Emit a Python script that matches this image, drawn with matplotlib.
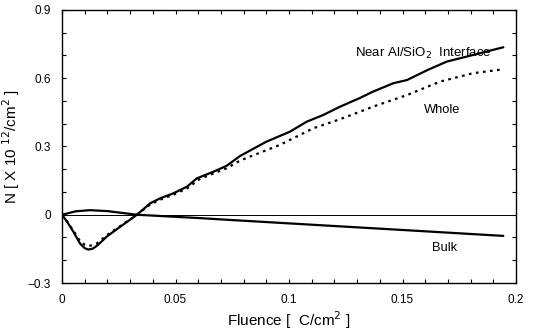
import matplotlib
matplotlib.use("Agg")
import matplotlib.pyplot as plt
from matplotlib.ticker import MultipleLocator, FixedLocator

plt.rcParams['font.family'] = ['Liberation Sans', 'DejaVu Sans']

# Near Al/SiO2 interface (solid)
near_x = [0, 0.0025, 0.005, 0.0079, 0.0100, 0.0116, 0.0135, 0.0153, 0.0175, 0.0197, 0.0256, 0.033,
          0.0388, 0.0432, 0.049, 0.055, 0.0594, 0.0667, 0.0725, 0.0784, 0.090, 0.1004, 0.1078,
          0.115, 0.1225, 0.131, 0.137, 0.146, 0.152, 0.161, 0.1695, 0.181, 0.1944]
near_y = [0, -0.035, -0.075, -0.126, -0.147, -0.153, -0.149, -0.137, -0.117, -0.096, -0.053, 0.0,
          0.050, 0.072, 0.094, 0.123, 0.160, 0.189, 0.215, 0.258, 0.321, 0.365, 0.409,
          0.438, 0.475, 0.512, 0.541, 0.578, 0.592, 0.636, 0.673, 0.702, 0.736]

# Whole (dotted)
whole_x = [0, 0.0025, 0.005, 0.0079, 0.0100, 0.0116, 0.0135, 0.0153, 0.0197, 0.0256, 0.033, 0.0388,
           0.0432, 0.049, 0.055, 0.0608, 0.0725, 0.0784, 0.096, 0.1107, 0.1225, 0.1313, 0.137,
           0.152, 0.1665, 0.181, 0.1944]
whole_y = [0, -0.033, -0.070, -0.115, -0.132, -0.137, -0.134, -0.126, -0.090, -0.050, 0.0, 0.045,
           0.066, 0.088, 0.115, 0.158, 0.204, 0.238, 0.307, 0.380, 0.420, 0.453, 0.475,
           0.526, 0.585, 0.622, 0.639]

# Bulk (solid)
bulk_x = [0, 0.006, 0.0123, 0.02, 0.033, 0.061, 0.0725, 0.1, 0.15, 0.1944]
bulk_y = [0, 0.015, 0.020, 0.016, 0.0, -0.015, -0.022, -0.038, -0.067, -0.093]

fig = plt.figure(figsize=(5.37, 3.31), dpi=100)
ax = fig.add_axes([0.1155, 0.145, 0.8455, 0.825])

ax.axhline(0, color='black', lw=0.7)
kw = dict(color='black', lw=1.6, solid_joinstyle='round', solid_capstyle='round')
ax.plot(near_x, near_y, **kw)
ax.plot(whole_x, whole_y, color='black', lw=1.6, ls=(0, (1.2, 2.0)))
ax.plot(bulk_x, bulk_y, **kw)

ax.set_xlim(0, 0.2)
ax.set_ylim(-0.3, 0.9)
ax.xaxis.set_major_locator(FixedLocator([0, 0.05, 0.1, 0.15, 0.2]))
ax.set_xticklabels(['0', '0.05', '0.1', '0.15', '0.2'])
ax.yaxis.set_major_locator(FixedLocator([-0.3, 0, 0.3, 0.6, 0.9]))
ax.set_yticklabels(['\u22120.3', '0', '0.3', '0.6', '0.9'])
ax.xaxis.set_minor_locator(MultipleLocator(0.01))
ax.yaxis.set_minor_locator(MultipleLocator(0.1))
ax.tick_params(which='both', direction='in', top=True, right=True, labelsize=8.5)
ax.tick_params(which='major', length=3, width=0.8, pad=8)
ax.tick_params(which='minor', length=3, width=0.8)
for s in ax.spines.values():
    s.set_linewidth(1.0)

ax.set_xlabel('Fluence [  C/cm$^2$ ]', fontsize=11, labelpad=2)
ax.set_ylabel('N [ X 10 $^{12}$/cm$^2$ ]', fontsize=11)
ax.yaxis.set_label_coords(-0.088, 0.5)

ax.text(0.129, 0.71, 'Near Al/SiO$_2$  Interface', fontsize=9.5, ha='left', va='center')
ax.text(0.1595, 0.46, 'Whole', fontsize=9.3, ha='left', va='center')
ax.text(0.163, -0.147, 'Bulk', fontsize=9.3, ha='left', va='center')

fig.savefig('out.png', dpi=100)
